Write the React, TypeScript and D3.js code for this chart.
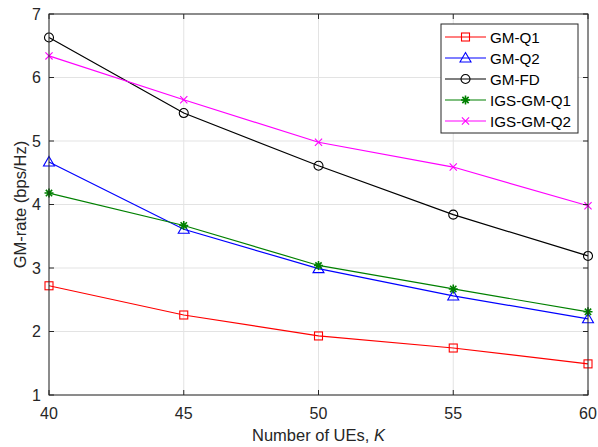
import React, { useRef, useEffect } from 'react';
import * as d3 from 'd3';

const users = [40, 45, 50, 55, 60];
const gmQ1 = [2.72, 2.26, 1.93, 1.74, 1.49];
const gmQ2 = [4.67, 3.61, 2.99, 2.56, 2.2];
const gmFD = [6.63, 5.44, 4.61, 3.84, 3.19];
const igsQ1 = [4.18, 3.67, 3.04, 2.67, 2.31];
const igsQ2 = [6.34, 5.65, 4.98, 4.59, 3.98];
const yTicks = [1, 2, 3, 4, 5, 6, 7];

const series = [
  { name: 'GM-Q1', values: gmQ1, color: '#ff0000', marker: 'square' },
  { name: 'GM-Q2', values: gmQ2, color: '#0000ff', marker: 'triangle' },
  { name: 'GM-FD', values: gmFD, color: '#000000', marker: 'circle' },
  { name: 'IGS-GM-Q1', values: igsQ1, color: '#008000', marker: 'star' },
  { name: 'IGS-GM-Q2', values: igsQ2, color: '#ff00ff', marker: 'cross' }
];

const W = 598;
const H = 447;
const margin = { left: 49, right: 10, top: 14, bottom: 52 };
const FONT = '"Liberation Sans", Arial, Helvetica, sans-serif';

const drawMarker = (g, type, x, y, color) => {
  const s = g.append('g').attr('transform', `translate(${x},${y})`)
    .attr('fill', 'none').attr('stroke', color).attr('stroke-width', 1.1);
  if (type === 'square') {
    s.append('rect').attr('x', -4).attr('y', -4).attr('width', 8).attr('height', 8);
  } else if (type === 'triangle') {
    s.append('path').attr('d', 'M0,-5.5L5.5,4L-5.5,4Z');
  } else if (type === 'circle') {
    s.append('circle').attr('r', 4.5);
  } else if (type === 'star') {
    const r = 4.5;
    s.append('path').attr('stroke-width', 1.6)
      .attr('d', `M${-r},0L${r},0M0,${-r}L0,${r}M${-r * 0.7},${-r * 0.7}L${r * 0.7},${r * 0.7}M${-r * 0.7},${r * 0.7}L${r * 0.7},${-r * 0.7}`);
  } else if (type === 'cross') {
    const r = 3.6;
    s.append('path').attr('d', `M${-r},${-r}L${r},${r}M${-r},${r}L${r},${-r}`);
  }
};

const App = () => {
  const svgRef = useRef(null);

  useEffect(() => {
    const svg = d3.select(svgRef.current);
    svg.selectAll('*').remove();

    const x = d3.scaleLinear().domain([40, 60]).range([margin.left, W - margin.right]);
    const y = d3.scaleLinear().domain([1, 7]).range([H - margin.bottom, margin.top]);
    const [x0, x1] = x.range();
    const [y0, y1] = y.range();

    svg.append('rect').attr('width', W).attr('height', H).attr('fill', '#fff');

    // grid
    const grid = svg.append('g').attr('stroke', '#e3e3e3').attr('stroke-width', 1);
    users.forEach(u => grid.append('line').attr('x1', x(u)).attr('x2', x(u)).attr('y1', y1).attr('y2', y0));
    yTicks.forEach(t => grid.append('line').attr('x1', x0).attr('x2', x1).attr('y1', y(t)).attr('y2', y(t)));

    // series
    const line = d3.line().x(d => x(d[0])).y(d => y(d[1]));
    series.forEach(s => {
      const pts = users.map((u, i) => [u, s.values[i]]);
      svg.append('path').attr('d', line(pts)).attr('fill', 'none')
        .attr('stroke', s.color).attr('stroke-width', 1.2);
      pts.forEach(p => drawMarker(svg, s.marker, x(p[0]), y(p[1]), s.color));
    });

    // axes box + ticks
    const ax = svg.append('g').attr('stroke', '#262626').attr('stroke-width', 1);
    ax.append('rect').attr('x', x0).attr('y', y1).attr('width', x1 - x0).attr('height', y0 - y1).attr('fill', 'none');
    users.forEach(u => {
      ax.append('line').attr('x1', x(u)).attr('x2', x(u)).attr('y1', y0).attr('y2', y0 - 5);
      ax.append('line').attr('x1', x(u)).attr('x2', x(u)).attr('y1', y1).attr('y2', y1 + 5);
    });
    yTicks.forEach(t => {
      ax.append('line').attr('x1', x0).attr('x2', x0 + 5).attr('y1', y(t)).attr('y2', y(t));
      ax.append('line').attr('x1', x1).attr('x2', x1 - 5).attr('y1', y(t)).attr('y2', y(t));
    });

    const labels = svg.append('g').attr('font-family', FONT).attr('font-size', 16).attr('fill', '#262626');
    users.forEach(u => labels.append('text').attr('x', x(u)).attr('y', y0 + 24)
      .attr('text-anchor', 'middle').text(u));
    yTicks.forEach(t => labels.append('text').attr('x', x0 - 8).attr('y', y(t) + 5.5)
      .attr('text-anchor', 'end').text(t));

    const xl = labels.append('text').attr('x', (x0 + x1) / 2).attr('y', H - 6)
      .attr('font-size', 16.5).attr('text-anchor', 'middle');
    xl.append('tspan').text('Number of UEs, ');
    xl.append('tspan').attr('font-style', 'italic').text('K');

    labels.append('text').attr('transform', `translate(26,${(y0 + y1) / 2}) rotate(-90)`)
      .attr('font-size', 16.5).attr('text-anchor', 'middle').text('GM-rate (bps/Hz)');

    // legend
    const lg = svg.append('g').attr('transform', 'translate(441,24)');
    lg.append('rect').attr('width', 137).attr('height', 109).attr('fill', '#fff')
      .attr('stroke', '#262626').attr('stroke-width', 1);
    series.forEach((s, i) => {
      const cy = 13 + i * 21;
      lg.append('line').attr('x1', 4).attr('x2', 45).attr('y1', cy).attr('y2', cy)
        .attr('stroke', s.color).attr('stroke-width', 1.2);
      drawMarker(lg, s.marker, 24.5, cy, s.color);
      lg.append('text').attr('x', 49).attr('y', cy + 5.5).attr('font-family', FONT)
        .attr('font-size', 15.2).attr('fill', '#000').text(s.name);
    });
  }, []);

  return (
    <svg ref={svgRef} width={W} height={H}
      style={{ position: 'absolute', left: 0, top: 0, display: 'block' }} />
  );
};

export default App;
